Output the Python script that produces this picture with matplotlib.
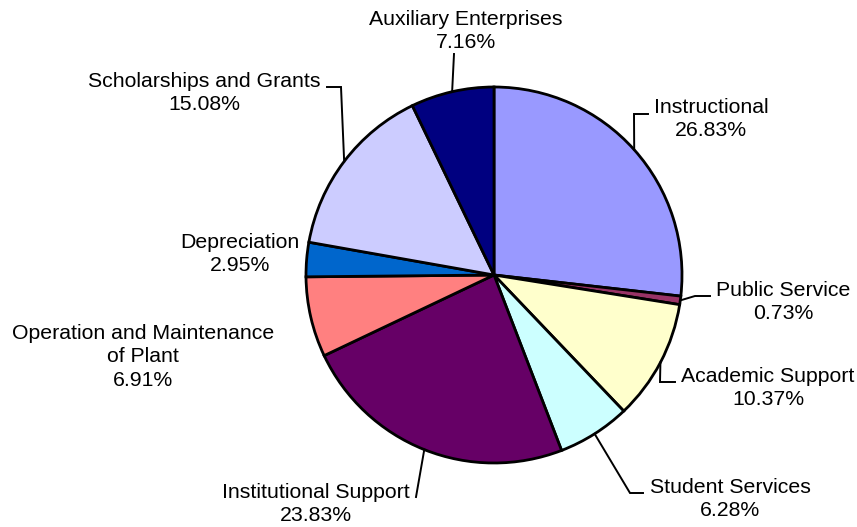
import numpy as np
import matplotlib
matplotlib.use("Agg")
import matplotlib.pyplot as plt

categories = ["Instructional", "Public Service", "Academic Support", "Student Services",
              "Institutional Support", "Operation and Maintenance\nof Plant", "Depreciation",
              "Scholarships and Grants", "Auxiliary Enterprises"]
values = [26.83, 0.73, 10.37, 6.28, 23.83, 6.91, 2.95, 15.08, 7.16]
colors = ["#9999FF", "#993366", "#FFFFCC", "#CCFFFF", "#660066", "#FF8080",
          "#0066CC", "#CCCCFF", "#000080"]

W, H = 857, 527
# label layout (pixel coords from top-left): text centre, elbow point, line end (None = no leader)
label_pos = [(711, 119), (783, 302), (768, 388), (730, 499), (316, 504),
             (143, 357), (240, 254), (204, 93), (466, 31)]
leader = [((634, 114), (648, 114)), ((695, 296), (710, 296)), ((660, 382), (675, 382)),
          ((630, 493), (643, 493)), ((416, 497), (416, 497)), None, None,
          ((341, 87), (327, 87)), ((454, 54), (454, 54))]

plt.rcParams['font.family'] = ['Liberation Sans', 'DejaVu Sans']

fig = plt.figure(figsize=(W / 100, H / 100), dpi=100)
ax = fig.add_axes([0, 0, 1, 1])

def Y(y):
    return H - y

cx, cy, r = 494, Y(275), 188
wedges, _ = ax.pie(values, colors=colors, startangle=90, counterclock=False,
                   center=(cx, cy), radius=r,
                   wedgeprops=dict(edgecolor="black", linewidth=2.0))
ax.set_xlim(0, W)
ax.set_ylim(0, H)
ax.set_aspect("equal")
ax.axis("off")

for w, name, v, (tx, ty), ld in zip(wedges, categories, values, label_pos, leader):
    ax.text(tx, Y(ty), f"{name}\n{v:.2f}%", ha="center", va="center",
            fontsize=15.3, linespacing=1.3, color="black")
    if ld is not None:
        mid = np.deg2rad((w.theta1 + w.theta2) / 2)
        px, py = cx + r * np.cos(mid), cy + r * np.sin(mid)
        (ex, ey), (lx, ly) = ld
        ax.plot([px, ex, lx], [py, Y(ey), Y(ly)], color="black", linewidth=1.4,
                solid_joinstyle="miter")

fig.savefig("out.png", dpi=100, facecolor="white")
